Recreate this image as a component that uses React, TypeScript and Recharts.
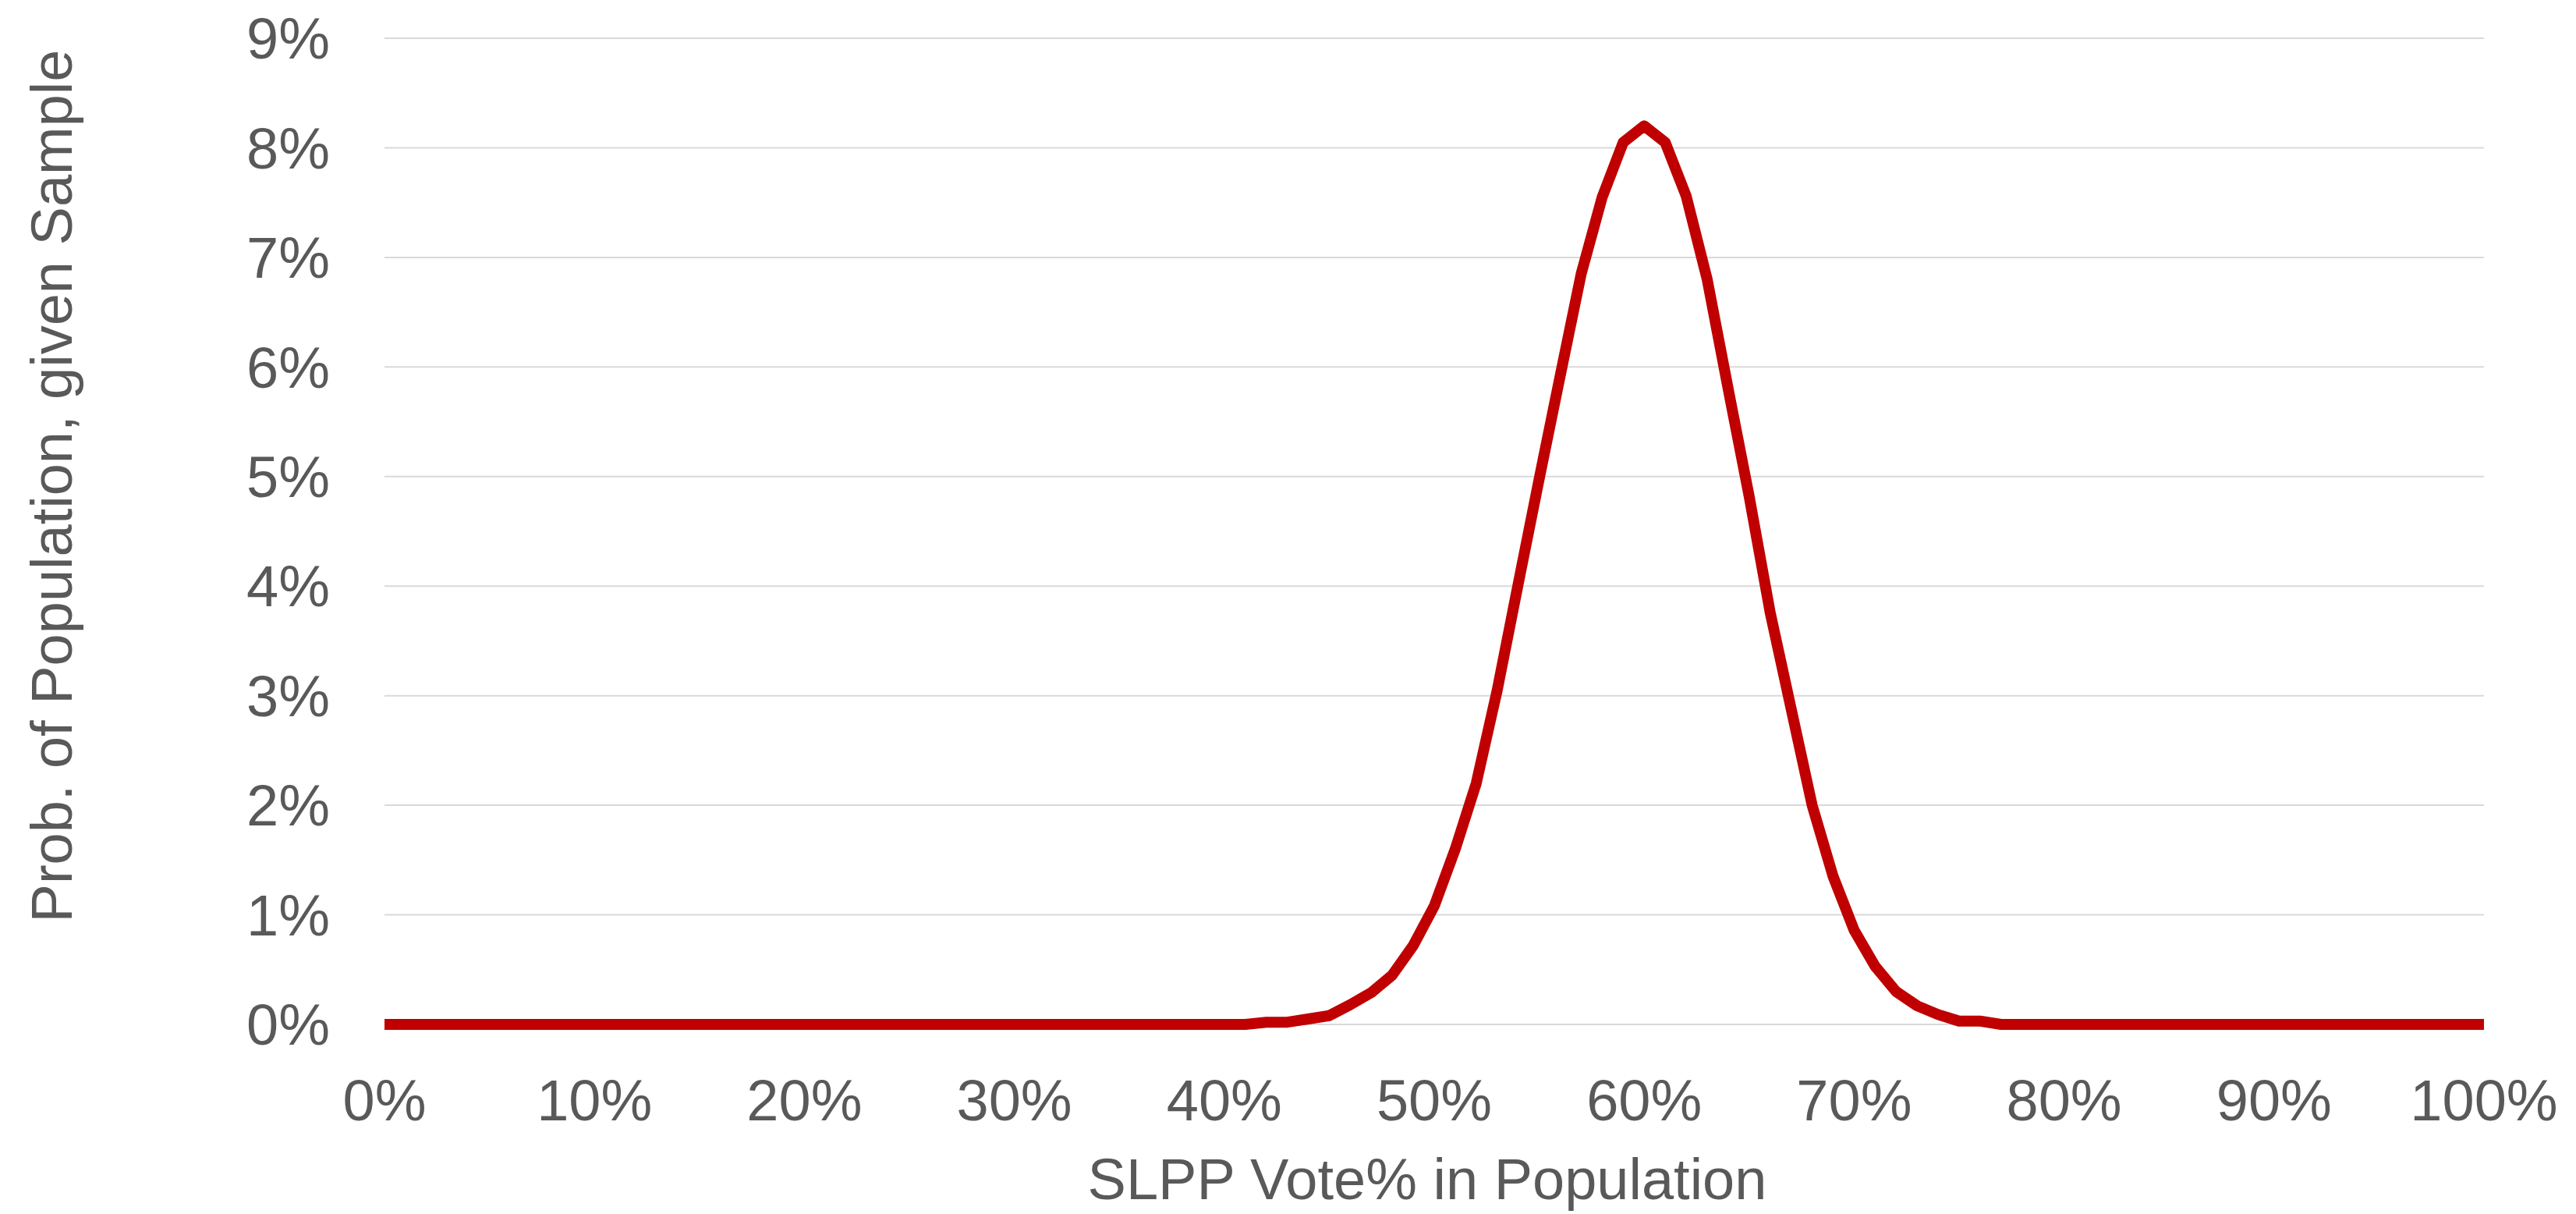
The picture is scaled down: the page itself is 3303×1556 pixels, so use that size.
import React from "react";
import { LineChart, Line, XAxis, YAxis, CartesianGrid, Label } from "recharts";

// SLPP vote share in population (%), category values
const votePct: number[] = [
  0, 1, 2, 3, 4, 5, 6, 7, 8, 9,
  10, 11, 12, 13, 14, 15, 16, 17, 18, 19,
  20, 21, 22, 23, 24, 25, 26, 27, 28, 29,
  30, 31, 32, 33, 34, 35, 36, 37, 38, 39,
  40, 41, 42, 43, 44, 45, 46, 47, 48, 49,
  50, 51, 52, 53, 54, 55, 56, 57, 58, 59,
  60, 61, 62, 63, 64, 65, 66, 67, 68, 69,
  70, 71, 72, 73, 74, 75, 76, 77, 78, 79,
  80, 81, 82, 83, 84, 85, 86, 87, 88, 89,
  90, 91, 92, 93, 94, 95, 96, 97, 98, 99,
  100,
];

// Probability of population given sample (%)
const probPct: number[] = [
  0, 0, 0, 0, 0, 0, 0, 0, 0, 0,
  0, 0, 0, 0, 0, 0, 0, 0, 0, 0,
  0, 0, 0, 0, 0, 0, 0, 0, 0, 0,
  0, 0, 0, 0, 0, 0, 0, 0, 0, 0,
  0, 0, 0.02, 0.02, 0.05, 0.08, 0.18, 0.29, 0.45, 0.72,
  1.08, 1.6, 2.2, 3.05, 4.02, 4.98, 5.92, 6.85, 7.55, 8.05,
  8.2, 8.05, 7.56, 6.8, 5.8, 4.82, 3.76, 2.88, 2.0, 1.35,
  0.86, 0.53, 0.3, 0.17, 0.09, 0.03, 0.03, 0, 0, 0,
  0, 0, 0, 0, 0, 0, 0, 0, 0, 0,
  0, 0, 0, 0, 0, 0, 0, 0, 0, 0,
  0,
];

const xTicks: number[] = [0, 10, 20, 30, 40, 50, 60, 70, 80, 90, 100];
const yTicks: number[] = [0, 1, 2, 3, 4, 5, 6, 7, 8, 9];

const xTitle = "SLPP Vote% in Population";
const yTitle = "Prob. of Population, given Sample";

const data = votePct.map((x, i) => ({ x, p: probPct[i] }));

const FONT = "'Liberation Sans', Arial, Helvetica, sans-serif";
const TEXT_COLOR = "#595959";
const FS = 74;

export default function App() {
  return (
    <div style={{ width: 3295, height: 1548, background: "#fff" }}>
      <LineChart
        width={3295}
        height={1548}
        data={data}
        margin={{ top: 41, right: 118, left: 0, bottom: 0 }}
      >
        <CartesianGrid vertical={false} stroke="#d9d9d9" strokeWidth={2} />
        <XAxis
          dataKey="x"
          type="number"
          domain={[0, 100]}
          ticks={xTicks}
          interval={0}
          height={243}
          axisLine={false}
          tickLine={false}
          tickSize={0}
          tickMargin={70}
          tickFormatter={(v: number) => `${v}%`}
          tick={{ fill: TEXT_COLOR, fontSize: FS, fontFamily: FONT }}
        >
          <Label
            content={(props: any) => {
              const vb = props.viewBox || {};
              return (
                <text
                  x={vb.x + vb.width / 2 - 9}
                  y={vb.y + 224}
                  textAnchor="middle"
                  fill={TEXT_COLOR}
                  fontSize={FS}
                  fontFamily={FONT}
                >
                  {xTitle}
                </text>
              );
            }}
          />
        </XAxis>
        <YAxis
          type="number"
          domain={[0, 9]}
          ticks={yTicks}
          interval={0}
          width={485}
          axisLine={false}
          tickLine={false}
          tickSize={0}
          tickMargin={70}
          tickFormatter={(v: number) => `${v}%`}
          tick={{ fill: TEXT_COLOR, fontSize: FS, fontFamily: FONT }}
        >
          <Label
            content={(props: any) => {
              const vb = props.viewBox || {};
              const cx = vb.x + 84;
              const cy = vb.y + vb.height / 2 - 58;
              return (
                <text
                  x={cx}
                  y={cy}
                  transform={`rotate(-90, ${cx}, ${cy})`}
                  textAnchor="middle"
                  fill={TEXT_COLOR}
                  fontSize={FS}
                  fontFamily={FONT}
                >
                  {yTitle}
                </text>
              );
            }}
          />
        </YAxis>
        <Line
          type="linear"
          dataKey="p"
          stroke="#c00000"
          strokeWidth={14}
          strokeLinejoin="round"
          strokeLinecap="butt"
          dot={false}
          activeDot={false}
          isAnimationActive={false}
        />
      </LineChart>
    </div>
  );
}
